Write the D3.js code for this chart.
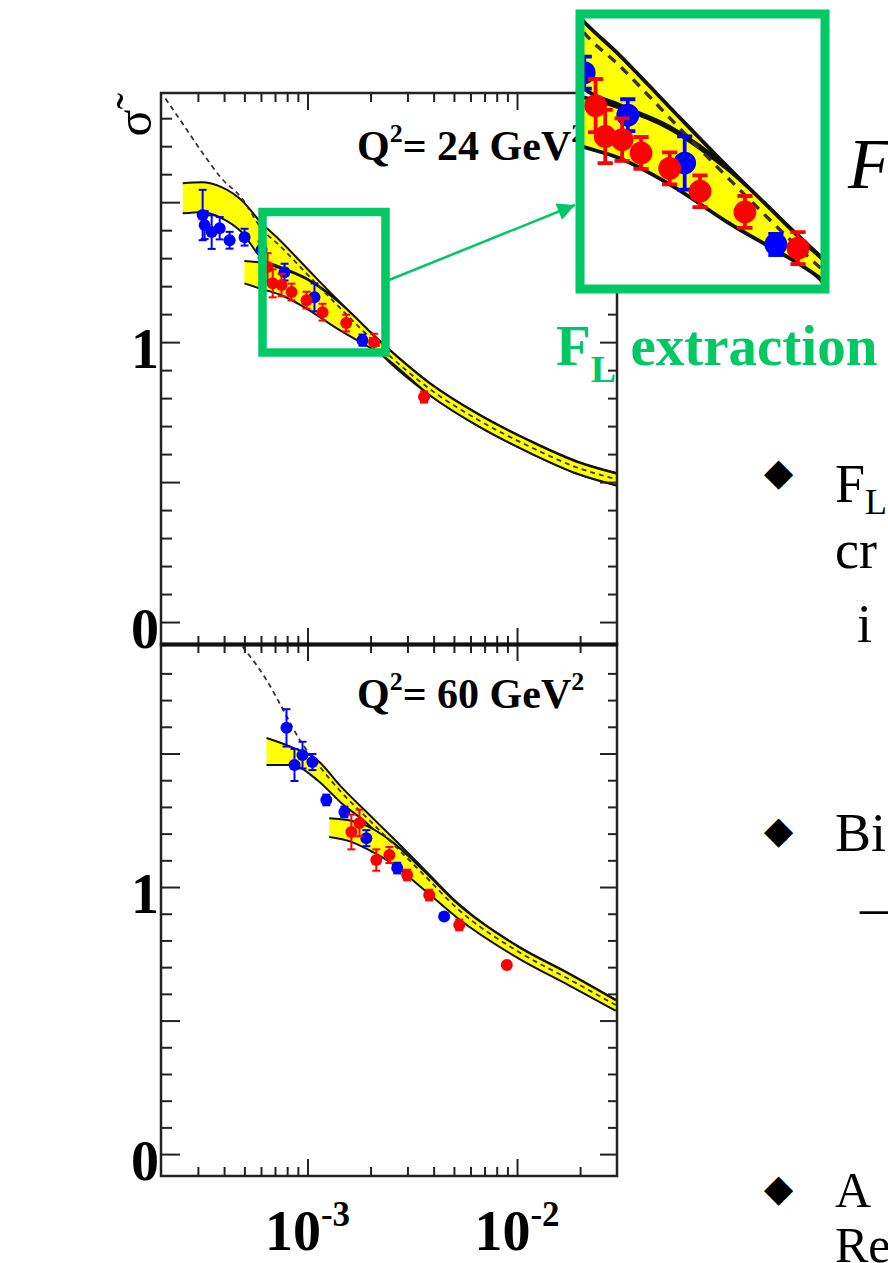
<!DOCTYPE html>
<meta charset="utf-8">
<script src="https://d3js.org/d3.v7.min.js"></script>
<style>
  body { margin: 0; background: #fff; }
  text { font-family: "Liberation Serif", "Times New Roman", serif; }
</style>
<div id="chart"></div>
<script>

// ---- top panel, Q2 = 24 GeV2 ----
var f2TopX = [2.1e-4, 2.54e-4, 3.13e-4, 3.89e-4, 4.85e-4, 6.04e-4, 7.36e-4, 9.9e-4, 1.375e-3, 2.35e-3, 3.81e-3, 6.6e-3, 1.14e-2, 1.97e-2, 3.0e-2];
var f2TopV = [1.87, 1.78, 1.68, 1.585, 1.515, 1.405, 1.345, 1.245, 1.135, 0.965, 0.834, 0.72, 0.628, 0.55, 0.51];

var bandATopX  = [2.54e-4, 3.13e-4, 3.89e-4, 4.85e-4, 6.04e-4, 7.36e-4, 9.9e-4, 1.375e-3, 2.35e-3, 3.81e-3, 6.6e-3, 1.14e-2, 1.97e-2, 3.0e-2];
var bandATopHi = [1.568, 1.571, 1.554, 1.507, 1.425, 1.365, 1.265, 1.155, 0.987, 0.856, 0.742, 0.65, 0.572, 0.532];
var bandATopLo = [1.46, 1.464, 1.443, 1.393, 1.30, 1.27, 1.228, 1.152, 0.943, 0.812, 0.698, 0.606, 0.528, 0.488];

var bandBTopX  = [5.0e-4, 6.04e-4, 7.36e-4, 9.9e-4, 1.375e-3, 2.35e-3, 3.81e-3, 6.6e-3, 1.14e-2, 1.97e-2, 3.0e-2];
var bandBTopHi = [1.29, 1.283, 1.265, 1.225, 1.15, 0.985, 0.854, 0.74, 0.648, 0.57, 0.53];
var bandBTopLo = [1.21, 1.19, 1.17, 1.12, 1.05, 0.945, 0.812, 0.698, 0.606, 0.528, 0.488];

var blueTopX = [3.16e-4, 3.23e-4, 3.49e-4, 3.81e-4, 4.25e-4, 5.01e-4, 6.04e-4, 7.77e-4, 1.08e-3, 1.83e-3];
var blueTopV = [1.454, 1.418, 1.393, 1.407, 1.364, 1.375, 1.33, 1.25, 1.16, 1.007];
var blueTopE = [0.09, 0.05, 0.06, 0.04, 0.03, 0.03, 0.03, 0.03, 0.05, 0.02];

var redTopX = [6.45e-4, 6.82e-4, 7.52e-4, 8.39e-4, 9.9e-4, 1.18e-3, 1.53e-3, 2.08e-3, 3.6e-3];
var redTopV = [1.268, 1.21, 1.204, 1.179, 1.15, 1.107, 1.068, 1.0, 0.804];
var redTopE = [0.05, 0.05, 0.04, 0.03, 0.03, 0.03, 0.03, 0.03, 0.02];

// ---- bottom panel, Q2 = 60 GeV2 ----
var f2BotX = [4.9e-4, 6.38e-4, 7.7e-4, 9.2e-4, 1.12e-3, 1.45e-3, 1.93e-3, 2.51e-3, 3.6e-3, 5.18e-3, 1.02e-2, 1.77e-2, 2.96e-2];
var f2BotV = [1.90, 1.775, 1.66, 1.55, 1.46, 1.355, 1.258, 1.168, 1.045, 0.92, 0.757, 0.655, 0.558];

var bandABotX  = [6.38e-4, 8.39e-4, 1.116e-3, 1.45e-3, 1.93e-3, 2.51e-3, 3.6e-3, 5.18e-3, 1.02e-2, 1.77e-2, 2.96e-2];
var bandABotHi = [1.558, 1.524, 1.475, 1.375, 1.278, 1.19, 1.067, 0.942, 0.777, 0.677, 0.578];
var bandABotLo = [1.457, 1.457, 1.40, 1.315, 1.237, 1.146, 1.023, 0.898, 0.737, 0.635, 0.538];

var bandBBotX  = [1.27e-3, 1.58e-3, 1.93e-3, 2.51e-3, 3.6e-3, 5.18e-3, 1.02e-2, 1.77e-2, 2.96e-2];
var bandBBotHi = [1.258, 1.25, 1.228, 1.172, 1.06, 0.938, 0.775, 0.675, 0.576];
var bandBBotLo = [1.187, 1.172, 1.142, 1.09, 0.99, 0.885, 0.732, 0.632, 0.537];

var blueBotX = [7.94e-4, 8.67e-4, 9.47e-4, 1.056e-3, 1.23e-3, 1.5e-3, 1.91e-3, 2.68e-3, 4.49e-3];
var blueBotV = [1.596, 1.457, 1.494, 1.468, 1.326, 1.281, 1.183, 1.071, 0.89];
var blueBotE = [0.07, 0.06, 0.05, 0.03, 0.02, 0.02, 0.03, 0.02, 0.01];

var redBotX = [1.62e-3, 1.77e-3, 2.13e-3, 2.46e-3, 2.99e-3, 3.81e-3, 5.3e-3, 8.94e-3];
var redBotV = [1.206, 1.24, 1.101, 1.12, 1.045, 0.97, 0.858, 0.708];
var redBotE = [0.065, 0.05, 0.04, 0.03, 0.02, 0.02, 0.02, 0.01];

// ---- ticks ----
var xMajorTicks = [1e-3, 1e-2];
var xMinorTicks = [3e-4, 4e-4, 5e-4, 6e-4, 7e-4, 8e-4, 9e-4, 2e-3, 3e-3, 4e-3, 5e-3, 6e-3, 7e-3, 8e-3, 9e-3, 2e-2];
var yMajorTicks = [0, 0.5, 1, 1.5];
var yMinorTicks = [0.1, 0.2, 0.3, 0.4, 0.6, 0.7, 0.8, 0.9, 1.1, 1.2, 1.3, 1.4, 1.6, 1.7, 1.8];
var yTickLabels = [0, 1];
var xTickLabels = [{v: 1e-3, base: "10", exp: "-3"}, {v: 1e-2, base: "10", exp: "-2"}];

var green = "#00c864";

var svg = d3.select("#chart").append("svg")
    .attr("width", 888)
    .attr("height", 1263);

svg.append("rect").attr("width", 888).attr("height", 1263).attr("fill", "#fff");

var defs = svg.append("defs");

var x = d3.scaleLog().domain([2e-4, 3e-2]).range([161, 617]);
var yTop = d3.scaleLinear().domain([-0.082, 1.89]).range([645, 93]);
var yBot = d3.scaleLinear().domain([-0.082, 1.91]).range([1176, 644]);

function zip3(xs, a, b) {
    return xs.map(function (d, i) { return {x: d, hi: a[i], lo: b[i]}; });
}
function pts(xs, vs, es) {
    return xs.map(function (d, i) { return {x: d, v: vs[i], e: es[i]}; });
}

function drawContent(id, y, f2x, f2v, bands, blue, red) {
    defs.append("clipPath").attr("id", id + "-clip")
      .append("rect")
        .attr("x", x.range()[0]).attr("y", y.range()[1])
        .attr("width", x.range()[1] - x.range()[0])
        .attr("height", y.range()[0] - y.range()[1]);

    var g = defs.append("g").attr("id", id);
    var inner = g.append("g").attr("clip-path", "url(#" + id + "-clip)");

    var area = d3.area()
        .x(function (d) { return x(d.x); })
        .y0(function (d) { return y(d.lo); })
        .y1(function (d) { return y(d.hi); })
        .curve(d3.curveMonotoneX);
    var lineHi = d3.line().x(function (d) { return x(d.x); }).y(function (d) { return y(d.hi); }).curve(d3.curveMonotoneX);
    var lineLo = d3.line().x(function (d) { return x(d.x); }).y(function (d) { return y(d.lo); }).curve(d3.curveMonotoneX);

    bands.forEach(function (b) {
        inner.append("path").datum(b).attr("d", area).attr("fill", "#ffff00");
        inner.append("path").datum(b).attr("d", lineHi)
            .attr("fill", "none").attr("stroke", "#111").attr("stroke-width", 2);
        inner.append("path").datum(b).attr("d", lineLo)
            .attr("fill", "none").attr("stroke", "#111").attr("stroke-width", 2);
    });

    var f2 = f2x.map(function (d, i) { return {x: d, v: f2v[i]}; });
    inner.append("path").datum(f2)
        .attr("d", d3.line().x(function (d) { return x(d.x); }).y(function (d) { return y(d.v); }).curve(d3.curveMonotoneX))
        .attr("fill", "none")
        .attr("stroke", "#333")
        .attr("stroke-width", 1.8)
        .attr("stroke-dasharray", "5,4");

    [[blue, "#0000ff"], [red, "#ff0000"]].forEach(function (s) {
        var sg = inner.append("g");
        var pt = sg.selectAll("g").data(s[0]).enter().append("g");
        pt.append("line")
            .attr("x1", function (d) { return x(d.x); })
            .attr("x2", function (d) { return x(d.x); })
            .attr("y1", function (d) { return y(d.v - d.e); })
            .attr("y2", function (d) { return y(d.v + d.e); })
            .attr("stroke", s[1]).attr("stroke-width", 2);
        pt.append("line")
            .attr("x1", function (d) { return x(d.x) - 4; })
            .attr("x2", function (d) { return x(d.x) + 4; })
            .attr("y1", function (d) { return y(d.v + d.e); })
            .attr("y2", function (d) { return y(d.v + d.e); })
            .attr("stroke", s[1]).attr("stroke-width", 2);
        pt.append("line")
            .attr("x1", function (d) { return x(d.x) - 4; })
            .attr("x2", function (d) { return x(d.x) + 4; })
            .attr("y1", function (d) { return y(d.v - d.e); })
            .attr("y2", function (d) { return y(d.v - d.e); })
            .attr("stroke", s[1]).attr("stroke-width", 2);
        pt.append("circle")
            .attr("cx", function (d) { return x(d.x); })
            .attr("cy", function (d) { return y(d.v); })
            .attr("r", 6)
            .attr("fill", s[1]);
    });

    svg.append("use").attr("href", "#" + id);
}

function drawAxes(y) {
    var ax = svg.append("g").attr("class", "axes");
    function put(axis, tx, ty) {
        var a = ax.append("g").attr("transform", "translate(" + tx + "," + ty + ")").call(axis);
        a.select(".domain").remove();
        a.selectAll("line").attr("stroke", "#222").attr("stroke-width", 2);
    }
    var x0 = x.range()[0], x1 = x.range()[1];
    var yt = y.range()[1], yb = y.range()[0];
    // left and right, ticks pointing inward
    put(d3.axisRight(y).tickValues(yMinorTicks).tickSize(11).tickFormat(""), x0, 0);
    put(d3.axisRight(y).tickValues(yMajorTicks).tickSize(19).tickFormat(""), x0, 0);
    put(d3.axisLeft(y).tickValues(yMinorTicks).tickSize(9).tickFormat(""), x1, 0);
    put(d3.axisLeft(y).tickValues(yMajorTicks).tickSize(17).tickFormat(""), x1, 0);
    // top and bottom
    put(d3.axisBottom(x).tickValues(xMinorTicks).tickSize(9).tickFormat(""), 0, yt);
    put(d3.axisBottom(x).tickValues(xMajorTicks).tickSize(17).tickFormat(""), 0, yt);
    put(d3.axisTop(x).tickValues(xMinorTicks).tickSize(9).tickFormat(""), 0, yb);
    put(d3.axisTop(x).tickValues(xMajorTicks).tickSize(17).tickFormat(""), 0, yb);

    ax.append("rect")
        .attr("x", x0).attr("y", yt)
        .attr("width", x1 - x0).attr("height", yb - yt)
        .attr("fill", "none").attr("stroke", "#222").attr("stroke-width", 2.5);

    ax.selectAll(".ylab").data(yTickLabels).enter().append("text")
        .attr("x", x0 - 2)
        .attr("y", function (d) { return y(d) + 26; })
        .attr("text-anchor", "end")
        .attr("font-size", 56)
        .attr("font-weight", "bold")
        .text(function (d) { return d; });
}

drawContent("top", yTop, f2TopX, f2TopV,
    [zip3(bandATopX, bandATopHi, bandATopLo), zip3(bandBTopX, bandBTopHi, bandBTopLo)],
    pts(blueTopX, blueTopV, blueTopE), pts(redTopX, redTopV, redTopE));
drawContent("bot", yBot, f2BotX, f2BotV,
    [zip3(bandABotX, bandABotHi, bandABotLo), zip3(bandBBotX, bandBBotHi, bandBBotLo)],
    pts(blueBotX, blueBotV, blueBotE), pts(redBotX, redBotV, redBotE));

drawAxes(yTop);
drawAxes(yBot);

// heavier line where the panels meet
svg.append("line")
    .attr("x1", x.range()[0]).attr("x2", x.range()[1])
    .attr("y1", 644.5).attr("y2", 644.5)
    .attr("stroke", "#111").attr("stroke-width", 4);

// x tick labels under the lower panel
var xl = svg.selectAll(".xlab").data(xTickLabels).enter().append("text")
    .attr("x", function (d) { return x(d.v); })
    .attr("y", 1250)
    .attr("text-anchor", "middle")
    .attr("font-weight", "bold")
    .attr("font-size", 56);
xl.append("tspan").text(function (d) { return d.base; });
xl.append("tspan").attr("font-size", 35).attr("dy", -24).text(function (d) { return d.exp; });

// y-axis title
svg.append("text")
    .attr("transform", "translate(151,123) rotate(-90)")
    .attr("text-anchor", "middle")
    .attr("font-size", 50)
    .text("σ\u0303");

// Q2 labels
function qLabel(y0, val) {
    var t = svg.append("text").attr("x", 357).attr("y", y0)
        .attr("font-size", 42).attr("font-weight", "bold");
    t.append("tspan").text("Q");
    t.append("tspan").attr("font-size", 26).attr("dy", -18).text("2");
    t.append("tspan").attr("dy", 18).text("= " + val + " GeV");
    t.append("tspan").attr("font-size", 26).attr("dy", -18).text("2");
}
qLabel(160, 24);
qLabel(708, 60);

// zoom box on the upper panel
svg.append("rect")
    .attr("x", 262.5).attr("y", 212).attr("width", 123).attr("height", 140.5)
    .attr("fill", "none").attr("stroke", green).attr("stroke-width", 8.5);

// arrow to the magnified view
defs.append("marker").attr("id", "arrow")
    .attr("viewBox", "0 0 10 10").attr("refX", 10).attr("refY", 5)
    .attr("markerWidth", 8).attr("markerHeight", 7).attr("markerUnits", "strokeWidth")
    .attr("orient", "auto")
  .append("path").attr("d", "M0,0 L10,5 L0,10 z").attr("fill", green);
svg.append("line")
    .attr("x1", 389).attr("y1", 280).attr("x2", 575).attr("y2", 205)
    .attr("stroke", green).attr("stroke-width", 2.5)
    .attr("marker-end", "url(#arrow)");

// magnified view
var s = 1.9, srcX = 262, srcY = 221;
defs.append("clipPath").attr("id", "inset-clip")
  .append("rect").attr("x", 584).attr("y", 18).attr("width", 237).attr("height", 267);
var inset = svg.append("g").attr("clip-path", "url(#inset-clip)");
inset.append("rect").attr("x", 584).attr("y", 18).attr("width", 237).attr("height", 267).attr("fill", "#fff");
inset.append("use").attr("href", "#top")
    .attr("transform", "translate(" + (585 - srcX * s) + "," + (18 - srcY * s) + ") scale(" + s + ")");
svg.append("rect")
    .attr("x", 580).attr("y", 14).attr("width", 245).attr("height", 275)
    .attr("fill", "none").attr("stroke", green).attr("stroke-width", 9);

var fl = svg.append("text").attr("x", 556).attr("y", 365)
    .attr("font-size", 57).attr("font-weight", "bold").attr("fill", green);
fl.append("tspan").text("F");
fl.append("tspan").attr("font-size", 38).attr("dy", 17).text("L");
fl.append("tspan").attr("dy", -17).text(" extraction");

// slide text on the right, cut by the page edge as in the slide
svg.append("text").attr("x", 848).attr("y", 188)
    .attr("font-size", 72).attr("font-style", "italic").text("F");

var bullets = [472, 830, 1188];
svg.selectAll(".bullet").data(bullets).enter().append("text")
    .attr("x", 778).attr("y", function (d) { return d + 13; })
    .attr("text-anchor", "middle")
    .attr("font-family", "DejaVu Sans")
    .attr("font-size", 38)
    .text("\u25C6");

var t1 = svg.append("text").attr("x", 835).attr("y", 502).attr("font-size", 54);
t1.append("tspan").text("F");
t1.append("tspan").attr("font-size", 36).attr("dy", 12).text("L");
svg.append("text").attr("x", 835).attr("y", 568).attr("font-size", 54).text("cr");
svg.append("text").attr("x", 857).attr("y", 642).attr("font-size", 54).text("i");
svg.append("text").attr("x", 835).attr("y", 851).attr("font-size", 54).text("Bi");
svg.append("text").attr("x", 860).attr("y", 925).attr("font-size", 54).text("\u2014");
svg.append("text").attr("x", 835).attr("y", 1207).attr("font-size", 50).text("A");
svg.append("text").attr("x", 835).attr("y", 1262).attr("font-size", 50).text("Re");

</script>
